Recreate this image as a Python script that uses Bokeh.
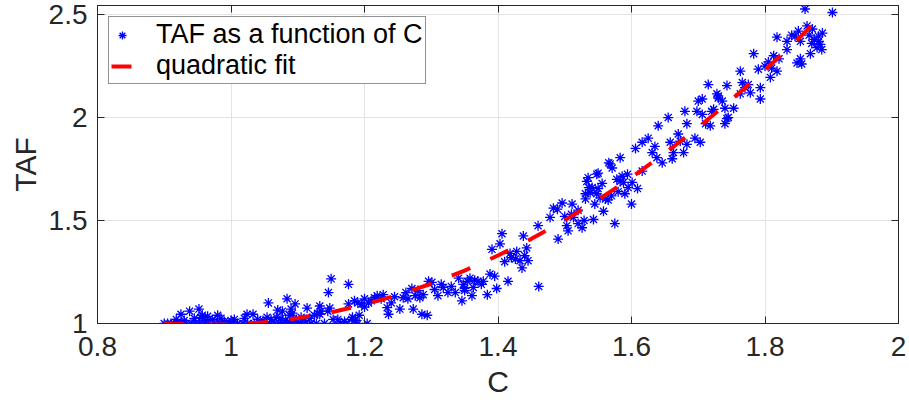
from bokeh.plotting import figure
from bokeh.models import Range1d, FixedTicker, LinearAxis, Legend, LegendItem, Title
from bokeh.embed import file_html
from bokeh.resources import INLINE

# ---------------- data ----------------
c_values = [
    # bottom row (TAF = 1)
    0.900, 0.905, 0.910, 0.915, 0.920, 0.926, 0.933, 0.940, 0.947, 0.953,
    0.960, 0.966, 0.975, 0.982, 0.990, 0.997, 1.000, 1.003, 1.010, 1.018,
    1.025, 1.035, 1.045, 1.050, 1.058, 1.065, 1.072, 1.078, 1.085, 1.090,
    1.095, 1.100, 1.105, 1.112, 1.120, 1.128, 1.140, 1.172, 1.190, 1.204,
    # slightly above 1
    0.918, 0.930, 0.945, 0.955, 0.962, 0.972, 0.985, 0.990, 1.000, 1.005,
    1.020, 1.040, 1.048, 1.060, 1.068, 1.075, 1.082, 1.088, 1.092, 1.098,
    1.105, 1.110, 1.118, 1.125, 1.130, 1.145, 1.160, 1.170, 1.182, 1.186, 1.192,
    # low C, scattered
    0.925, 0.938, 0.952, 0.957, 0.980, 0.965, 1.024, 1.033, 1.056, 1.084,
    1.096, 1.077, 1.114, 1.054, 1.070, 1.090, 1.133, 1.133, 1.148, 1.135,
    # C 1.14 - 1.36
    1.150, 1.146, 1.176, 1.153, 1.164, 1.181, 1.176, 1.196, 1.206, 1.219,
    1.228, 1.234, 1.236, 1.253, 1.258, 1.271, 1.273, 1.276, 1.286, 1.294,
    1.296, 1.301, 1.310, 1.318, 1.325, 1.336, 1.341, 1.346, 1.354, 1.283,
    1.288, 1.200, 1.210, 1.225, 1.240, 1.245, 1.262, 1.265, 1.280, 1.305,
    1.315, 1.330, 1.350, 1.215, 1.190, 1.185, 1.200,
    # C 1.33 - 1.55
    1.406, 1.403, 1.391, 1.438, 1.443, 1.418, 1.426, 1.433, 1.436, 1.445,
    1.415, 1.461, 1.388, 1.395, 1.378, 1.358, 1.370, 1.348, 1.363, 1.361,
    1.384, 1.460, 1.478, 1.490, 1.483, 1.496, 1.489, 1.503, 1.505, 1.511,
    1.513, 1.520, 1.526, 1.529, 1.531, 1.533, 1.536, 1.538, 1.543, 1.548,
    1.550, 1.420, 1.428, 1.440, 1.410, 1.375, 1.365, 1.398, 1.350,
    # C 1.52 - 1.75
    1.575, 1.558, 1.561, 1.531, 1.541, 1.548, 1.550, 1.556, 1.566, 1.571,
    1.583, 1.578, 1.586, 1.588, 1.601, 1.609, 1.606, 1.616, 1.625, 1.616,
    1.635, 1.638, 1.631, 1.646, 1.640, 1.655, 1.658, 1.661, 1.663, 1.670,
    1.673, 1.678, 1.683, 1.683, 1.680, 1.695, 1.698, 1.700, 1.706, 1.703,
    1.711, 1.718, 1.715, 1.720, 1.728, 1.743, 1.740, 1.743, 1.730,
    1.568, 1.535, 1.553, 1.594, 1.583, 1.565, 1.570, 1.580, 1.590, 1.595,
    1.600, 1.545, 1.520, 1.510, 1.500,
    # C 1.70 - 1.90
    1.706, 1.723, 1.730, 1.736, 1.740, 1.745, 1.753, 1.763, 1.766, 1.763,
    1.770, 1.775, 1.778, 1.790, 1.793, 1.793, 1.783, 1.808, 1.813, 1.818,
    1.818, 1.821, 1.833, 1.833, 1.840, 1.845, 1.853, 1.848, 1.853, 1.855,
    1.868, 1.863, 1.871, 1.880, 1.883, 1.880, 1.886, 1.860, 1.901,
    1.874, 1.878, 1.885, 1.870, 1.866, 1.850, 1.805, 1.800, 1.810,
]
taf_values = [
    1.000, 1.000, 1.000, 1.000, 1.000, 1.000, 1.000, 1.000, 1.000, 1.000,
    1.000, 1.000, 1.000, 1.000, 1.000, 1.000, 1.000, 1.000, 1.000, 1.000,
    1.000, 1.000, 1.000, 1.000, 1.000, 1.000, 1.000, 1.000, 1.000, 1.000,
    1.000, 1.000, 1.000, 1.000, 1.000, 1.000, 1.000, 1.000, 1.000, 1.000,
    1.020, 1.015, 1.025, 1.030, 1.015, 1.020, 1.025, 1.010, 1.015, 1.020,
    1.025, 1.020, 1.015, 1.020, 1.030, 1.025, 1.015, 1.040, 1.050, 1.020,
    1.030, 1.015, 1.025, 1.040, 1.050, 1.060, 1.020, 1.010, 1.030, 1.015, 1.040,
    1.045, 1.060, 1.070, 1.040, 1.040, 1.035, 1.045, 1.045, 1.100, 1.120,
    1.095, 1.060, 1.075, 1.030, 1.065, 1.070, 1.085, 1.045, 1.075, 1.060,
    1.217, 1.150, 1.190, 1.020, 1.000, 1.020, 1.095, 1.095, 1.100, 1.135,
    1.140, 1.077, 1.045, 1.070, 1.125, 1.170, 1.070, 1.135, 1.045, 1.040,
    1.205, 1.200, 1.135, 1.175, 1.150, 1.150, 1.220, 1.110, 1.205, 1.125,
    1.140, 1.120, 1.110, 1.120, 1.100, 1.130, 1.150, 1.120, 1.160, 1.165,
    1.190, 1.180, 1.170, 1.125, 1.100, 1.110, 1.080,
    1.436, 1.387, 1.360, 1.425, 1.367, 1.340, 1.313, 1.305, 1.270, 1.305,
    1.205, 1.180, 1.240, 1.230, 1.205, 1.220, 1.205, 1.190, 1.175, 1.135,
    1.140, 1.475, 1.515, 1.410, 1.560, 1.585, 1.555, 1.475, 1.450, 1.580,
    1.515, 1.485, 1.465, 1.500, 1.605, 1.690, 1.660, 1.635, 1.505, 1.725,
    1.655, 1.320, 1.350, 1.330, 1.300, 1.190, 1.210, 1.170, 1.160,
    1.485, 1.545, 1.605, 1.630, 1.660, 1.630, 1.730, 1.680, 1.780, 1.755,
    1.805, 1.700, 1.715, 1.685, 1.685, 1.655, 1.850, 1.880, 1.900, 1.740,
    1.860, 1.805, 1.830, 1.780, 1.960, 2.000, 1.880, 1.800, 1.830, 1.920,
    1.885, 1.830, 1.870, 1.970, 2.030, 1.900, 2.030, 2.080, 2.015, 1.880,
    1.970, 1.960, 2.160, 2.030, 2.115, 2.155, 1.970, 1.995, 2.095,
    1.775, 1.708, 1.610, 1.725, 1.690, 1.600, 1.620, 1.640, 1.630, 1.660,
    1.580, 1.580, 1.550, 1.530, 1.520,
    2.090, 2.040, 2.105, 2.080, 2.045, 2.000, 2.045, 2.225, 2.170, 2.115,
    2.145, 2.160, 2.120, 2.235, 2.145, 2.090, 2.310, 2.195, 2.300, 2.390,
    2.225, 2.285, 2.370, 2.330, 2.400, 2.395, 2.370, 2.265, 2.285, 2.260,
    2.310, 2.445, 2.430, 2.395, 2.355, 2.370, 2.410, 2.527, 2.510,
    2.380, 2.340, 2.330, 2.360, 2.400, 2.420, 2.270, 2.250, 2.240,
]

# quadratic fit curve
fit_c = [0.90, 0.95, 1.00, 1.05, 1.10, 1.15, 1.20, 1.25, 1.30, 1.35, 1.40,
         1.45, 1.50, 1.55, 1.60, 1.65, 1.70, 1.75, 1.80, 1.85, 1.89]
fit_taf = [1.000, 0.993, 0.995, 1.006, 1.026, 1.054, 1.092, 1.138, 1.193, 1.257, 1.330,
           1.411, 1.502, 1.601, 1.709, 1.826, 1.952, 2.087, 2.230, 2.382, 2.511]

x_ticks = [0.8, 1.0, 1.2, 1.4, 1.6, 1.8, 2.0]
x_tick_labels = ["0.8", "1", "1.2", "1.4", "1.6", "1.8", "2"]
y_ticks = [1.0, 1.5, 2.0, 2.5]
y_tick_labels = ["1", "1.5", "2", "2.5"]
x_label = "C"
y_label = "TAF"

FONT = "Liberation Sans"
DARK = "#262626"

p = figure(width=909, height=407, output_backend="svg", toolbar_location=None,
           x_range=Range1d(0.8, 2.0), y_range=Range1d(1.0, 2.544),
           min_border_left=97, min_border_right=11, min_border_top=5, min_border_bottom=84)
p.background_fill_color = "white"
p.border_fill_color = "white"
p.outline_line_color = DARK
p.outline_line_width = 1

sc = p.scatter(c_values, taf_values, marker="asterisk", size=10, line_color="#0000ff", line_width=1.3)
ln = p.line(fit_c, fit_taf, line_color="#ff0000", line_width=4, line_dash="20 22")

def style_axis(ax, ticks, labels, show_labels=True, standoff=10):
    ax.ticker = FixedTicker(ticks=ticks)
    ax.axis_line_color = DARK
    ax.major_tick_line_color = DARK
    ax.major_tick_in = 7
    ax.major_tick_out = 0
    ax.minor_tick_line_color = None
    ax.major_label_text_font = FONT
    ax.axis_label_text_font = FONT
    ax.axis_label_text_font_style = "normal"
    ax.axis_label_text_color = DARK
    ax.axis_label_text_font_size = "30px"
    if show_labels:
        ax.major_label_overrides = {t: l for t, l in zip(ticks, labels)}
        ax.major_label_text_color = DARK
        ax.major_label_text_font_size = "28px"
        ax.major_label_standoff = standoff
    else:
        # tick marks only (MATLAB box style), no labels on this side
        ax.major_label_text_color = None
        ax.major_label_text_font_size = "1px"
        ax.major_label_standoff = 0

style_axis(p.xaxis[0], x_ticks, x_tick_labels, standoff=13)
style_axis(p.yaxis[0], y_ticks, y_tick_labels, standoff=10)
p.yaxis[0].axis_label = y_label
p.yaxis[0].axis_label_standoff = 4

# x-axis title, stacked below the x axis
p.add_layout(Title(text=x_label, align="center", text_font=FONT, text_font_size="30px",
                   text_font_style="normal", text_color=DARK, standoff=9), "below")

top_ax = LinearAxis()
style_axis(top_ax, x_ticks, x_tick_labels, show_labels=False)
p.add_layout(top_ax, "above")
right_ax = LinearAxis()
style_axis(right_ax, y_ticks, y_tick_labels, show_labels=False)
p.add_layout(right_ax, "right")

p.xgrid.ticker = FixedTicker(ticks=x_ticks)
p.ygrid.ticker = FixedTicker(ticks=y_ticks)
p.xgrid.grid_line_color = "#e3e3e3"
p.ygrid.grid_line_color = "#e3e3e3"
p.xgrid.minor_grid_line_color = None
p.ygrid.minor_grid_line_color = None

legend = Legend(items=[LegendItem(label="TAF as a function of C", renderers=[sc]),
                       LegendItem(label="quadratic fit", renderers=[ln])],
                location="top_left", margin=11, padding=2, spacing=0,
                glyph_width=22, glyph_height=20, label_height=20, label_standoff=23,
                label_text_font=FONT, label_text_font_size="27px", label_text_color="#000000",
                border_line_color=DARK, border_line_width=1,
                background_fill_color="white", background_fill_alpha=1)
p.add_layout(legend)

open("out.html", "w").write(file_html(p, INLINE))
